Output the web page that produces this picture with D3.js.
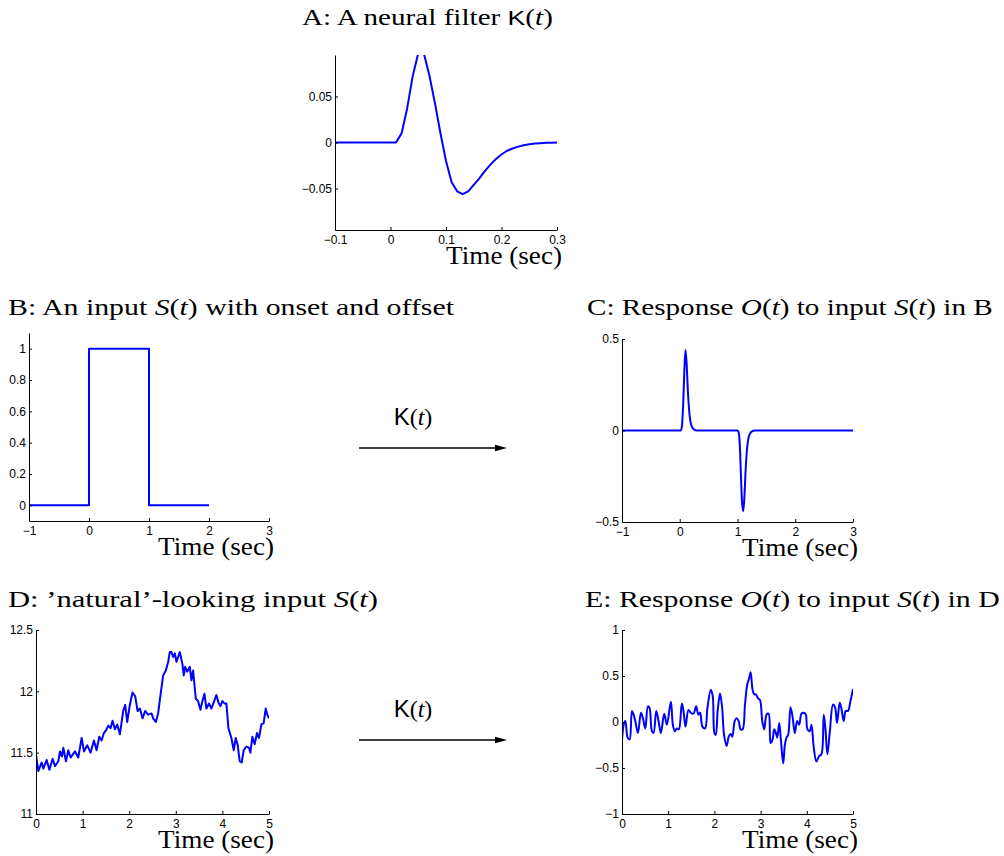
<!DOCTYPE html>
<html>
<head>
<meta charset="utf-8">
<script src="https://cdn.jsdelivr.net/npm/d3@7"></script>
<style>
  html, body { margin: 0; padding: 0; background: #fff; }
  svg { display: block; }
  .tick text { font-family: "Liberation Sans", Arial, sans-serif; font-size: 12px; fill: #000; }
  .title { font-family: "Liberation Serif", "Times New Roman", serif; font-size: 23px; fill: #000; }
  .xlab { font-family: "Liberation Serif", "Times New Roman", serif; font-size: 26px; fill: #000; }
  .ker { font-family: "Liberation Sans", Arial, sans-serif; font-size: 24px; fill: #000; }
</style>
</head>
<body>
<svg id="fig" width="1004" height="856"></svg>
<script>
// ---- Panel A: the filter kernel K(t) ----
const kernelTime = [-0.1, 0, 0.01, 0.02, 0.03, 0.04, 0.05, 0.06, 0.07, 0.08, 0.09, 0.10,
  0.11, 0.12, 0.13, 0.14, 0.15, 0.16, 0.17, 0.18, 0.19, 0.20, 0.21, 0.22, 0.23,
  0.24, 0.25, 0.26, 0.27, 0.28, 0.29, 0.30];
const kernelValue = [0, 0, 0, 0.010, 0.037, 0.072, 0.097, 0.097, 0.073, 0.043, 0.010, -0.020,
  -0.043, -0.053, -0.056, -0.053, -0.046, -0.039, -0.031, -0.024, -0.018, -0.013, -0.009,
  -0.0065, -0.0045, -0.003, -0.002, -0.0012, -0.0007, -0.0004, -0.0002, -0.0001];
const kernelXTicks = [-0.1, 0, 0.1, 0.2, 0.3];
const kernelXLabels = ["\u22120.1", "0", "0.1", "0.2", "0.3"];
const kernelYTicks = [-0.05, 0, 0.05];
const kernelYLabels = ["\u22120.05", "0", "0.05"];

// ---- Panel B: step input with onset and offset ----
const stepTime = [-1, 0, 0, 1, 1, 2];
const stepValue = [0, 0, 1, 1, 0, 0];
const stepXTicks = [-1, 0, 1, 2, 3];
const stepXLabels = ["\u22121", "0", "1", "2", "3"];
const stepYTicks = [0, 0.2, 0.4, 0.6, 0.8, 1];
const stepYLabels = ["0", "0.2", "0.4", "0.6", "0.8", "1"];

// ---- Panel C: response to the step ----
const stepRespTime = [-1, 0, 0.02, 0.04, 0.06, 0.08, 0.10, 0.12, 0.14, 0.16, 0.18, 0.20, 0.22,
  0.25, 0.3, 1.0, 1.02, 1.04, 1.06, 1.08, 1.10, 1.12, 1.14, 1.16, 1.18, 1.20, 1.22, 1.25, 1.3, 3];
const stepRespValue = [0, 0, 0, 0.03, 0.15, 0.33, 0.44, 0.36, 0.22, 0.12, 0.06, 0.03, 0.015,
  0.005, 0, 0, -0.01, -0.08, -0.25, -0.40, -0.44, -0.36, -0.22, -0.12, -0.06, -0.03, -0.015,
  -0.005, 0, 0];
const respXTicks = [-1, 0, 1, 2, 3];
const respXLabels = ["\u22121", "0", "1", "2", "3"];
const respYTicks = [-0.5, 0, 0.5];
const respYLabels = ["\u22120.5", "0", "0.5"];

// ---- Panel D: natural-looking input ----
const natTime = [0.000, 0.050, 0.121, 0.157, 0.229, 0.286, 0.357, 0.407, 0.479, 0.514, 0.557,
  0.586, 0.643, 0.693, 0.743, 0.836, 0.907, 0.979, 1.029, 1.100, 1.171, 1.243, 1.300, 1.357,
  1.407, 1.457, 1.514, 1.550, 1.600, 1.643, 1.693, 1.743, 1.800, 1.871, 1.914, 1.957, 2.014,
  2.071, 2.129, 2.179, 2.229, 2.286, 2.343, 2.407, 2.479, 2.514, 2.571, 2.621, 2.671, 2.729,
  2.786, 2.836, 2.871, 2.907, 2.943, 2.979, 3.014, 3.086, 3.143, 3.171, 3.200, 3.243, 3.300,
  3.336, 3.371, 3.429, 3.479, 3.529, 3.571, 3.614, 3.657, 3.714, 3.764, 3.814, 3.871, 3.914,
  3.957, 4.000, 4.050, 4.086, 4.129, 4.193, 4.243, 4.286, 4.329, 4.371, 4.414, 4.457, 4.514,
  4.571, 4.600, 4.643, 4.693, 4.743, 4.786, 4.836, 4.886, 4.929, 4.964, 5.000];
const natValue = [11.48, 11.35, 11.42, 11.37, 11.44, 11.36, 11.45, 11.39, 11.43, 11.51, 11.47,
  11.54, 11.43, 11.52, 11.46, 11.51, 11.46, 11.62, 11.51, 11.56, 11.50, 11.60, 11.52, 11.63,
  11.60, 11.66, 11.69, 11.72, 11.70, 11.76, 11.69, 11.73, 11.65, 11.84, 11.89, 11.75, 11.89,
  11.99, 11.96, 11.84, 11.86, 11.78, 11.84, 11.81, 11.82, 11.78, 11.75, 11.82, 11.97, 12.13,
  12.17, 12.24, 12.32, 12.32, 12.28, 12.31, 12.24, 12.32, 12.22, 12.13, 12.20, 12.16, 12.20,
  12.09, 12.17, 11.94, 11.92, 11.85, 11.92, 11.98, 11.86, 11.90, 11.86, 11.91, 11.97, 11.91,
  11.88, 11.92, 11.90, 11.90, 11.70, 11.62, 11.52, 11.62, 11.56, 11.43, 11.42, 11.52, 11.55,
  11.54, 11.50, 11.63, 11.57, 11.66, 11.62, 11.73, 11.74, 11.86, 11.81, 11.78];
const natXTicks = [0, 1, 2, 3, 4, 5];
const natXLabels = ["0", "1", "2", "3", "4", "5"];
const natYTicks = [11, 11.5, 12, 12.5];
const natYLabels = ["11", "11.5", "12", "12.5"];

// ---- Panel E: response to the natural input ----
const natRespTime = [0, 0.036, 0.072, 0.122, 0.165, 0.216, 0.252, 0.288, 0.345, 0.410, 0.453,
  0.504, 0.561, 0.597, 0.647, 0.683, 0.741, 0.791, 0.842, 0.914, 0.971, 1.058, 1.101, 1.144,
  1.187, 1.230, 1.295, 1.331, 1.374, 1.439, 1.489, 1.547, 1.604, 1.655, 1.691, 1.741, 1.799,
  1.849, 1.921, 1.964, 2.000, 2.029, 2.072, 2.122, 2.165, 2.209, 2.266, 2.309, 2.353, 2.388,
  2.439, 2.482, 2.525, 2.568, 2.612, 2.662, 2.712, 2.755, 2.784, 2.827, 2.863, 2.899, 2.942,
  2.986, 3.036, 3.079, 3.129, 3.173, 3.216, 3.259, 3.295, 3.331, 3.360, 3.403, 3.439, 3.489,
  3.525, 3.561, 3.597, 3.647, 3.691, 3.741, 3.791, 3.835, 3.885, 3.935, 3.978, 4.014, 4.065,
  4.101, 4.151, 4.209, 4.266, 4.317, 4.367, 4.403, 4.446, 4.496, 4.568, 4.612, 4.655, 4.712,
  4.748, 4.799, 4.842, 4.892, 4.942, 5.000];
const natRespValue = [-0.20, -0.03, 0.01, -0.17, -0.19, 0.12, 0.08, 0.01, -0.12, 0.10, 0.04,
  -0.07, 0.17, 0.15, -0.10, -0.12, 0.12, 0.01, -0.12, 0.09, -0.03, 0.22, -0.03, -0.10, -0.07,
  -0.08, 0.20, 0.12, -0.05, 0.13, 0.10, 0.09, 0.17, 0.08, 0.10, -0.05, -0.07, 0.15, 0.35, 0.28,
  -0.12, -0.14, 0.13, 0.31, 0.17, -0.14, -0.26, -0.16, -0.13, -0.16, 0.01, 0.04, 0.01, -0.08,
  -0.08, 0.19, 0.41, 0.48, 0.54, 0.35, 0.30, 0.30, 0.26, 0.24, 0.01, -0.08, 0.08, 0.09, -0.23,
  -0.19, -0.08, -0.12, -0.17, -0.01, -0.19, -0.45, -0.25, -0.17, -0.14, 0.16, 0.06, -0.12,
  0.01, -0.03, 0.09, 0.10, 0.08, -0.08, -0.10, -0.03, -0.28, -0.43, -0.37, -0.35, 0.08, -0.07,
  -0.35, -0.12, 0.19, 0.16, -0.01, 0.21, 0.15, 0.01, 0.12, 0.12, 0.22, 0.36];
const natRespYTicks = [-1, -0.5, 0, 0.5, 1];
const natRespYLabels = ["\u22121", "\u22120.5", "0", "0.5", "1"];

const svg = d3.select("#fig");
const blue = "#0000ff";

// Stretch a text element horizontally (about its anchor x) so its ink spans the given width.
function fitWidth(sel, x0, width) {
  const w = sel.node().getBBox().width;
  if (w > 0) sel.attr("transform", `translate(${x0},0) scale(${width / w},1) translate(${-x0},0)`);
}

// Draws one axes box (left + bottom spines) with a data line inside.
function drawPanel(cfg) {
  const x = d3.scaleLinear().domain(cfg.xDomain).range([cfg.left, cfg.right]);
  const y = d3.scaleLinear().domain(cfg.yDomain).range([cfg.bottom, cfg.top]);
  const g = svg.append("g");
  const clipId = "clip-" + cfg.id;
  g.append("clipPath").attr("id", clipId).append("rect")
    .attr("x", cfg.left).attr("y", cfg.top)
    .attr("width", cfg.right - cfg.left).attr("height", cfg.bottom - cfg.top);

  const pts = cfg.xs.map((t, i) => [t, cfg.ys[i]]);
  g.append("path")
    .datum(pts)
    .attr("clip-path", `url(#${clipId})`)
    .attr("fill", "none")
    .attr("stroke", blue)
    .attr("stroke-width", 2)
    .attr("stroke-linejoin", "round")
    .attr("d", d3.line().x(d => x(d[0])).y(d => y(d[1])).curve(cfg.curve || d3.curveLinear));

  const xAxis = d3.axisBottom(x).tickValues(cfg.xTicks)
    .tickFormat((d, i) => cfg.xLabels[i]).tickSizeInner(-3).tickSizeOuter(0).tickPadding(5);
  const yAxis = d3.axisLeft(y).tickValues(cfg.yTicks)
    .tickFormat((d, i) => cfg.yLabels[i]).tickSizeInner(-3).tickSizeOuter(0).tickPadding(3);

  const gx = g.append("g").attr("transform", `translate(0,${cfg.bottom})`).call(xAxis);
  const gy = g.append("g").attr("transform", `translate(${cfg.left},0)`).call(yAxis);
  [gx, gy].forEach(a => {
    a.select(".domain").attr("stroke", "#000").attr("stroke-width", 1);
    a.selectAll(".tick line").attr("stroke", "#000").attr("stroke-width", 1);
    a.selectAll(".tick text").attr("fill", "#000").style("font-size", "12px");
  });

  const lab = g.append("text").attr("class", "xlab")
    .attr("x", cfg.right + 5).attr("y", cfg.bottom + 34)
    .attr("text-anchor", "end").text("Time (sec)");
  fitWidth(lab, cfg.right + 5, 116);
}

// Title with mixed roman / math italic / sans pieces.
function drawTitle(x, y, width, parts) {
  const t = svg.append("text").attr("class", "title").attr("x", x).attr("y", y);
  parts.forEach(p => {
    const s = t.append("tspan").text(p.s);
    if (p.it) s.attr("font-style", "italic");
    if (p.sans) s.attr("font-family", "'Liberation Sans', Arial, sans-serif").attr("font-size", "21px");
  });
  fitWidth(t, x, width);
}

// Labelled arrow standing for "convolve with K(t)".
function drawArrow(x1, x2, yLine, xLabel, yLabel) {
  const t = svg.append("text").attr("class", "ker").attr("x", xLabel).attr("y", yLabel)
    .attr("text-anchor", "middle");
  t.append("tspan").text("K");
  t.append("tspan").attr("font-family", "'Liberation Serif', serif").text("(");
  t.append("tspan").attr("font-family", "'Liberation Serif', serif").attr("font-style", "italic").text("t");
  t.append("tspan").attr("font-family", "'Liberation Serif', serif").text(")");
  svg.append("line").attr("x1", x1).attr("x2", x2 - 10).attr("y1", yLine).attr("y2", yLine)
    .attr("stroke", "#000").attr("stroke-width", 1.6);
  svg.append("path")
    .attr("d", `M${x2},${yLine} L${x2 - 12},${yLine - 3.2} L${x2 - 12},${yLine + 3.2} Z`)
    .attr("fill", "#000");
}

drawPanel({ id: "a", left: 335, right: 557, top: 55, bottom: 230,
  xDomain: [-0.1, 0.3], yDomain: [-0.095, 0.095],
  xs: kernelTime, ys: kernelValue,
  xTicks: kernelXTicks, xLabels: kernelXLabels, yTicks: kernelYTicks, yLabels: kernelYLabels });

drawPanel({ id: "b", left: 29, right: 269, top: 333, bottom: 521,
  xDomain: [-1, 3], yDomain: [-0.1, 1.1],
  xs: stepTime, ys: stepValue,
  xTicks: stepXTicks, xLabels: stepXLabels, yTicks: stepYTicks, yLabels: stepYLabels });

drawPanel({ id: "c", left: 622, right: 853, top: 339, bottom: 522,
  xDomain: [-1, 3], yDomain: [-0.5, 0.5],
  xs: stepRespTime, ys: stepRespValue, curve: d3.curveMonotoneX,
  xTicks: respXTicks, xLabels: respXLabels, yTicks: respYTicks, yLabels: respYLabels });

drawPanel({ id: "d", left: 36, right: 269, top: 630, bottom: 814,
  xDomain: [0, 5], yDomain: [11, 12.5],
  xs: natTime, ys: natValue,
  xTicks: natXTicks, xLabels: natXLabels, yTicks: natYTicks, yLabels: natYLabels });

drawPanel({ id: "e", left: 622, right: 853, top: 630, bottom: 814,
  xDomain: [0, 5], yDomain: [-1, 1],
  xs: natRespTime, ys: natRespValue, curve: d3.curveCatmullRom.alpha(0.5),
  xTicks: natXTicks, xLabels: natXLabels, yTicks: natRespYTicks, yLabels: natRespYLabels });

drawTitle(302, 25, 251, [{ s: "A: A neural filter " }, { s: "K", sans: true }, { s: "(" }, { s: "t", it: true }, { s: ")" }]);
drawTitle(8, 315, 447, [{ s: "B: An input " }, { s: "S", it: true }, { s: "(" }, { s: "t", it: true },
  { s: ") with onset and offset" }]);
drawTitle(587, 315, 406, [{ s: "C: Response " }, { s: "O", it: true }, { s: "(" }, { s: "t", it: true },
  { s: ") to input " }, { s: "S", it: true }, { s: "(" }, { s: "t", it: true }, { s: ") in B" }]);
drawTitle(8, 607, 370, [{ s: "D: \u2019natural\u2019-looking input " }, { s: "S", it: true }, { s: "(" },
  { s: "t", it: true }, { s: ")" }]);
drawTitle(585, 607, 415, [{ s: "E: Response " }, { s: "O", it: true }, { s: "(" }, { s: "t", it: true },
  { s: ") to input " }, { s: "S", it: true }, { s: "(" }, { s: "t", it: true }, { s: ") in D" }]);

drawArrow(359, 507, 448, 413, 425);
drawArrow(359, 507, 740, 413, 717);
</script>
</body>
</html>
